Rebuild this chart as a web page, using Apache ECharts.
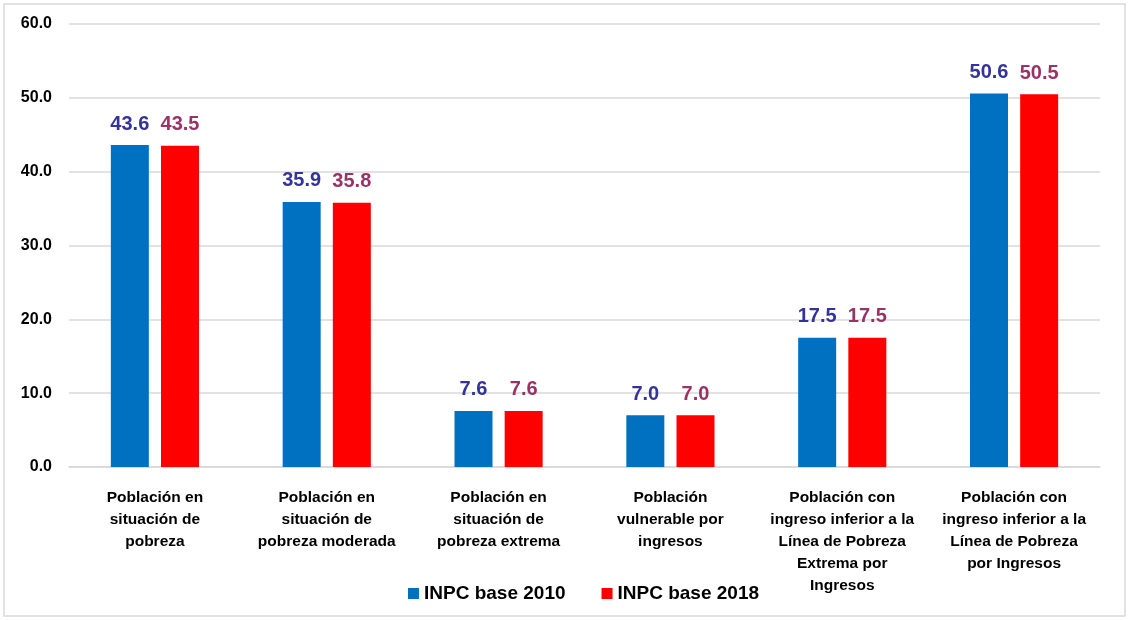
<!DOCTYPE html>
<html><head><meta charset="utf-8">
<script src="https://cdn.jsdelivr.net/npm/echarts@6/dist/echarts.min.js"></script>
<style>html,body{margin:0;padding:0;background:#fff}#c{width:1130px;height:620px}</style>
</head><body><div id="c"></div>
<script>
const categories = [
  "Población en\nsituación de\npobreza",
  "Población en\nsituación de\npobreza moderada",
  "Población en\nsituación de\npobreza extrema",
  "Población\nvulnerable por\ningresos",
  "Población con\ningreso inferior a la\nLínea de Pobreza\nExtrema por\nIngresos",
  "Población con\ningreso inferior a la\nLínea de Pobreza\npor Ingresos"
];
const seriesNames = ["INPC base 2010", "INPC base 2018"];
const base2010 = [43.6, 35.9, 7.6, 7.0, 17.5, 50.6];
const base2018 = [43.5, 35.8, 7.6, 7.0, 17.5, 50.5];
const yTicks = { min: 0, max: 60, interval: 10 };

const FONT = '"Liberation Sans", Arial, sans-serif';
const chart = echarts.init(document.getElementById('c'));
chart.setOption({
  animation: false,
  textStyle: { fontFamily: FONT },
  graphic: [{ type: 'rect', shape: { x: 4, y: 4, width: 1121, height: 612 }, style: { fill: 'none', stroke: '#d9d9d9', lineWidth: 1.5 }, silent: true }],
  grid: { left: 69, right: 30, top: 24, bottom: 153, containLabel: false },
  legend: {
    data: seriesNames, bottom: 12, left: 403, itemWidth: 11, itemHeight: 11, itemGap: 36,
    icon: 'rect', textStyle: { fontSize: 19, fontWeight: 'bold', color: '#000', fontFamily: FONT }
  },
  xAxis: {
    type: 'category', data: categories,
    axisLine: { lineStyle: { color: '#d9d9d9', width: 1.5 } },
    axisTick: { show: false },
    axisLabel: { interval: 0, margin: 20, fontSize: 15.5, fontWeight: 'bold', color: '#000', lineHeight: 22, fontFamily: FONT }
  },
  yAxis: {
    type: 'value', min: yTicks.min, max: yTicks.max, interval: yTicks.interval,
    axisLine: { show: false }, axisTick: { show: false },
    splitLine: { lineStyle: { color: '#d9d9d9', width: 1.5 } },
    axisLabel: { margin: 17, fontSize: 16, fontWeight: 'bold', color: '#000', fontFamily: FONT, formatter: v => v.toFixed(1) }
  },
  series: [
    { name: seriesNames[0], type: 'bar', data: base2010, barWidth: 38, barGap: '32%',
      itemStyle: { color: '#0070C0' },
      label: { show: true, position: 'top', distance: 11, fontSize: 20, fontWeight: 'bold', color: '#333399', fontFamily: FONT, formatter: p => p.value.toFixed(1) } },
    { name: seriesNames[1], type: 'bar', data: base2018, barWidth: 38,
      itemStyle: { color: '#FF0000' },
      label: { show: true, position: 'top', distance: 11, fontSize: 20, fontWeight: 'bold', color: '#993366', fontFamily: FONT, formatter: p => p.value.toFixed(1) } }
  ]
});
</script></body></html>
